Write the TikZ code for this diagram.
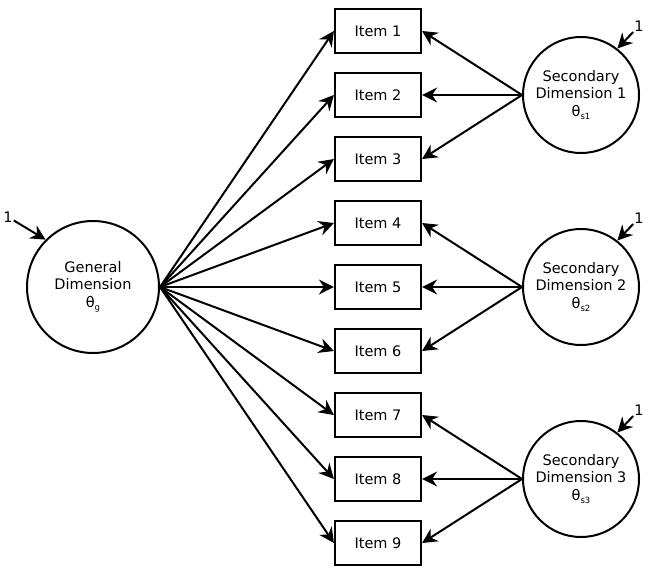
\documentclass[tikz,border=0pt]{standalone}
\usepackage{fontspec}
\setmainfont{DejaVu Sans}
\usetikzlibrary{arrows.meta, positioning}

\newcommand{\thetasub}[1]{θ\raisebox{-0.45ex}{\fontsize{8.5}{8.5}\selectfont #1}}

\tikzset{
  item/.style={draw, line width=2.2pt, minimum width=86pt, minimum height=44pt, inner sep=0pt},
  factor/.style={draw, circle, line width=2pt, align=center, inner sep=0pt},
  load/.style={-{Stealth[length=15pt,width=15pt,inset=5pt]}, line width=2pt},
  fixed/.style={inner sep=1pt}
}

\begin{document}
\begin{tikzpicture}[x=1pt, y=-1pt, font=\fontsize{14.5}{17.5}\selectfont]
\useasboundingbox (0,0) rectangle (656,576);

% Items
\foreach \i in {1,...,9} {
    \node[item] (item\i) at (378,{31+64*(\i-1)}) {Item \i};
}

% General dimension
\node[factor, minimum size=132pt] (gen) at (93,287) {General\\Dimension\\\thetasub{g}};
\node[fixed] (one0) at (8,217) {1};
\draw[load] (one0) -- (gen.135);
\foreach \i in {1,...,9} {
    \draw[load] (gen.east) -- (item\i.west);
}

% Secondary dimensions
\foreach \s/\y in {1/95, 2/287, 3/479} {
    \node[factor, minimum size=116pt] (sec\s) at (581,\y) {Secondary\\Dimension \s\\\thetasub{s\s}};
    \node[fixed] (one\s) at (639,{\y-69}) {1};
    \draw[load] (one\s) -- (sec\s.52);
}
\foreach \s/\a/\b/\c in {1/1/2/3, 2/4/5/6, 3/7/8/9} {
    \draw[load] (sec\s.west) -- (item\a.east);
    \draw[load] (sec\s.west) -- (item\b.east);
    \draw[load] (sec\s.west) -- (item\c.east);
}
\end{tikzpicture}
\end{document}
